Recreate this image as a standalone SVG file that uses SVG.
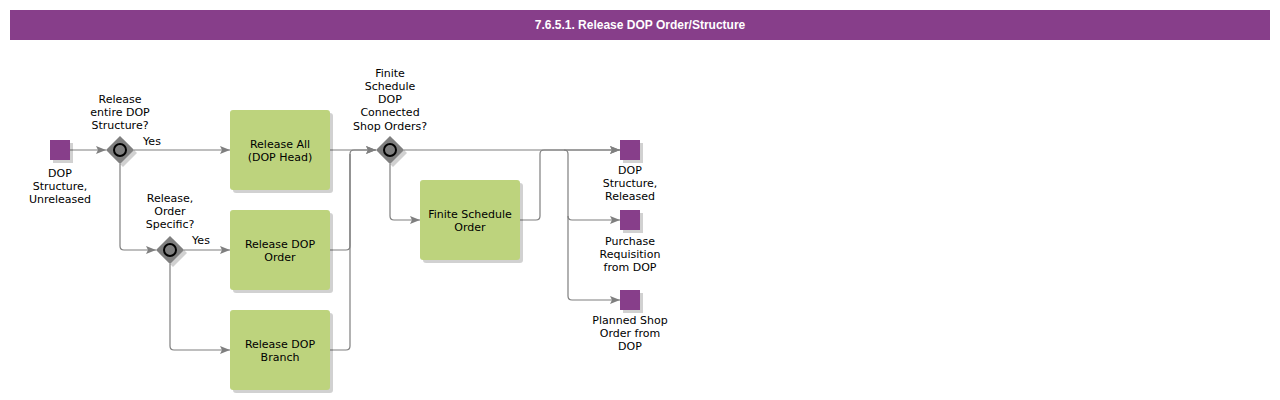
<svg xmlns="http://www.w3.org/2000/svg" width="1280" height="400" viewBox="0 0 1280 400">
<style>
text{font-family:"DejaVu Sans",Verdana,sans-serif;font-size:11px;fill:#000;text-anchor:middle}
.title{font-family:"Liberation Sans",Arial,sans-serif;font-weight:bold;font-size:12px;fill:#fff}
.task{fill:#bdd37d}
.ev{fill:#873e8a}
.sh{fill:#000;opacity:0.18}
.gw{fill:#7f7f7f}
.gi{fill:none;stroke:#000;stroke-width:2}
.c{fill:none;stroke:#7f7f7f;stroke-width:1.2}
</style>
<defs>
<marker id="ah" viewBox="0 0 10 10" refX="10" refY="5" markerWidth="10" markerHeight="10" markerUnits="userSpaceOnUse" orient="auto">
<path d="M0,1 L10,5 L0,9 L2,5 Z" fill="#7f7f7f"/>
</marker>
</defs>
<rect x="10" y="10" width="1260" height="30" fill="#873e8a"/>
<text class="title" x="640" y="29">7.6.5.1. Release DOP Order/Structure</text>

<g id="connectors">
<path class="c" d="M70,150 H106" marker-end="url(#ah)"/>
<path class="c" d="M134,150 H230" marker-end="url(#ah)"/>
<text x="152" y="145">Yes</text>
<path class="c" d="M120,164 V246 Q120,250 124,250 H156" marker-end="url(#ah)"/>
<path class="c" d="M184,250 H230" marker-end="url(#ah)"/>
<text x="201" y="244">Yes</text>
<path class="c" d="M170,264 V346 Q170,350 174,350 H230" marker-end="url(#ah)"/>
<path class="c" d="M330,150 H376" marker-end="url(#ah)"/>
<path class="c" d="M330,250 H346 Q350,250 350,246 V154 Q350,150 354,150 H376" marker-end="url(#ah)"/>
<path class="c" d="M330,350 H346 Q350,350 350,346 V154"/>
<path class="c" d="M404,150 H620" marker-end="url(#ah)"/>
<path class="c" d="M390,164 V216 Q390,220 394,220 H420" marker-end="url(#ah)"/>
<path class="c" d="M520,220 H536 Q540,220 540,216 V154 Q540,150 544,150 H620" marker-end="url(#ah)"/>
<path class="c" d="M564,150 Q568,150 568,154 V216 Q568,220 572,220 H620" marker-end="url(#ah)"/>
<path class="c" d="M568,216 V296 Q568,300 572,300 H620" marker-end="url(#ah)"/>
</g>

<g id="start">
<rect class="sh" x="53" y="143" width="20" height="20"/>
<rect class="ev" x="50" y="140" width="20" height="20"/>
<text x="60" y="177">DOP</text>
<text x="60" y="190">Structure,</text>
<text x="60" y="203">Unreleased</text>
</g>

<g id="gw1">
<path class="sh" d="M123,139 L137,153 L123,167 L109,153 Z"/>
<path class="gw" d="M120,136 L134,150 L120,164 L106,150 Z"/>
<circle class="gi" cx="120" cy="150" r="6"/>
<text x="120" y="103">Release</text>
<text x="120" y="116">entire DOP</text>
<text x="120" y="129">Structure?</text>
</g>

<g id="releaseAll">
<rect class="sh" x="233" y="113" width="100" height="80" rx="3"/>
<rect class="task" x="230" y="110" width="100" height="80" rx="3"/>
<text x="280" y="148">Release All</text>
<text x="280" y="161">(DOP Head)</text>
</g>

<g id="gw2">
<path class="sh" d="M173,239 L187,253 L173,267 L159,253 Z"/>
<path class="gw" d="M170,236 L184,250 L170,264 L156,250 Z"/>
<circle class="gi" cx="170" cy="250" r="6"/>
<text x="170" y="202">Release,</text>
<text x="170" y="215">Order</text>
<text x="170" y="228">Specific?</text>
</g>

<g id="releaseOrder">
<rect class="sh" x="233" y="213" width="100" height="80" rx="3"/>
<rect class="task" x="230" y="210" width="100" height="80" rx="3"/>
<text x="280" y="248">Release DOP</text>
<text x="280" y="261">Order</text>
</g>

<g id="releaseBranch">
<rect class="sh" x="233" y="313" width="100" height="80" rx="3"/>
<rect class="task" x="230" y="310" width="100" height="80" rx="3"/>
<text x="280" y="348">Release DOP</text>
<text x="280" y="361">Branch</text>
</g>

<g id="gw3">
<path class="sh" d="M393,139 L407,153 L393,167 L379,153 Z"/>
<path class="gw" d="M390,136 L404,150 L390,164 L376,150 Z"/>
<circle class="gi" cx="390" cy="150" r="6"/>
<text x="390" y="77">Finite</text>
<text x="390" y="90">Schedule</text>
<text x="390" y="103">DOP</text>
<text x="390" y="116">Connected</text>
<text x="390" y="130">Shop Orders?</text>
</g>

<g id="finiteSchedule">
<rect class="sh" x="423" y="183" width="100" height="80" rx="3"/>
<rect class="task" x="420" y="180" width="100" height="80" rx="3"/>
<text x="470" y="218">Finite Schedule</text>
<text x="470" y="231">Order</text>
</g>

<g id="end1">
<rect class="sh" x="623" y="143" width="20" height="20"/>
<rect class="ev" x="620" y="140" width="20" height="20"/>
<text x="630" y="174">DOP</text>
<text x="630" y="187">Structure,</text>
<text x="630" y="200">Released</text>
</g>

<g id="end2">
<rect class="sh" x="623" y="213" width="20" height="20"/>
<rect class="ev" x="620" y="210" width="20" height="20"/>
<text x="630" y="245">Purchase</text>
<text x="630" y="258">Requisition</text>
<text x="630" y="271">from DOP</text>
</g>

<g id="end3">
<rect class="sh" x="623" y="293" width="20" height="20"/>
<rect class="ev" x="620" y="290" width="20" height="20"/>
<text x="630" y="324">Planned Shop</text>
<text x="630" y="337">Order from</text>
<text x="630" y="350">DOP</text>
</g>
</svg>
